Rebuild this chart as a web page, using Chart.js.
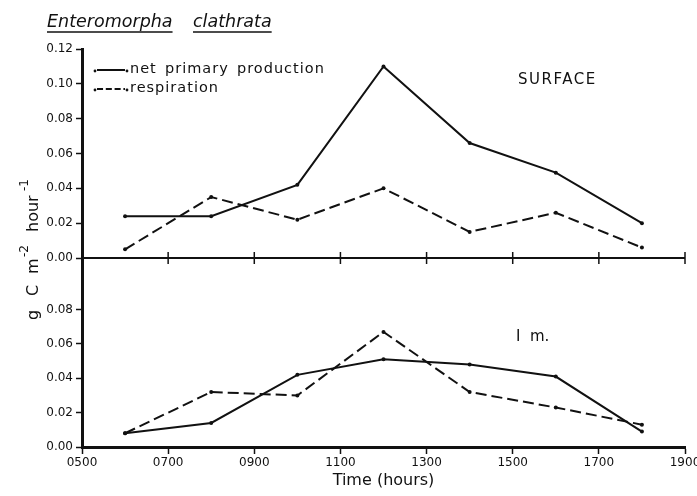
<!DOCTYPE html>
<html>
<head>
<meta charset="utf-8">
<script src="https://cdn.jsdelivr.net/npm/chart.js@4/dist/chart.umd.min.js"></script>
<style>
  html, body { margin: 0; padding: 0; background: #fff; }
  #wrap { width: 697px; height: 496px; position: relative; }
</style>
</head>
<body>
<div id="wrap"><canvas id="c" width="697" height="496"></canvas></div>
<script>
// Sampling times (hours of the day)
const hours = [6, 8, 10, 12, 14, 16, 18];

// Surface samples, g C m-2 hour-1
const surfaceNet  = [0.024, 0.024, 0.042, 0.110, 0.066, 0.049, 0.020];
const surfaceResp = [0.005, 0.035, 0.022, 0.040, 0.015, 0.026, 0.006];

// 1 m depth samples, g C m-2 hour-1
const depthNet  = [0.008, 0.014, 0.042, 0.051, 0.048, 0.041, 0.009];
const depthResp = [0.008, 0.032, 0.030, 0.067, 0.032, 0.023, 0.013];

// Axis ticks
const xTicks = [5, 7, 9, 11, 13, 15, 17, 19];
const xTickLabels = ['0500', '0700', '0900', '1100', '1300', '1500', '1700', '1900'];
const topTicks = [0, 0.02, 0.04, 0.06, 0.08, 0.10, 0.12];
const topTickLabels = ['0.00', '0.02', '0.04', '0.06', '0.08', '0.10', '0.12'];
const bottomTicks = [0, 0.02, 0.04, 0.06, 0.08];
const bottomTickLabels = ['0.00', '0.02', '0.04', '0.06', '0.08'];

const seriesNames = ['net primary production', 'respiration'];

const FONT = '"DejaVu Sans", sans-serif';
const INK = '#111';
const DASH = [11, 5];

function pts(ys) { return hours.map((h, i) => ({ x: h, y: ys[i] })); }

function lineSet(label, ys, axis, dashed) {
  return {
    label: label,
    data: pts(ys),
    yAxisID: axis,
    borderColor: INK,
    backgroundColor: INK,
    borderWidth: 2,
    borderDash: dashed ? DASH : [],
    pointRadius: 2,
    pointBorderWidth: 0,
    pointBackgroundColor: INK,
    tension: 0,
    fill: false
  };
}

function yAxis(min, max, ticks, labels, weight) {
  return {
    type: 'linear',
    position: 'left',
    stack: 'panels',
    stackWeight: weight,
    min: min,
    max: max,
    afterBuildTicks: s => { s.ticks = ticks.map(v => ({ value: v })); },
    afterFit: s => { s.width = 82; },
    ticks: {
      color: INK,
      font: { family: FONT, size: 12 },
      padding: 3,
      callback: (v) => { const i = ticks.findIndex(t => Math.abs(t - v) < 1e-9); return i >= 0 ? labels[i] : ''; }
    },
    grid: { drawOnChartArea: false, drawTicks: true, tickLength: 6, tickWidth: 1.5, tickColor: INK },
    border: { display: true, color: INK, width: 3 }
  };
}

// Text, legend and the zero line between panels
const decor = {
  id: 'decor',
  afterDatasetsDraw(chart) {
    const ctx = chart.ctx;
    const xs = chart.scales.x;
    const yt = chart.scales.yTop;
    ctx.save();
    ctx.strokeStyle = INK;
    ctx.fillStyle = INK;

    // zero line of the upper panel with crossing ticks
    const y0 = yt.getPixelForValue(0);
    ctx.lineWidth = 2;
    ctx.beginPath();
    ctx.moveTo(xs.left, y0);
    ctx.lineTo(xs.right, y0);
    ctx.stroke();
    ctx.lineWidth = 1.5;
    xTicks.forEach(v => {
      const px = xs.getPixelForValue(v);
      ctx.beginPath();
      ctx.moveTo(px, y0 - 6);
      ctx.lineTo(px, y0 + 6);
      ctx.stroke();
    });

    // title, each word underlined
    ctx.font = 'oblique 17.5px ' + FONT;
    ctx.textBaseline = 'alphabetic';
    ctx.textAlign = 'left';
    [['Enteromorpha', 47], ['clathrata', 193]].forEach(([w, x]) => {
      ctx.fillText(w, x, 27);
      const wd = ctx.measureText(w).width;
      ctx.lineWidth = 1.5;
      ctx.beginPath();
      ctx.moveTo(x, 32);
      ctx.lineTo(x + wd, 32);
      ctx.stroke();
    });

    // legend
    ctx.lineWidth = 2;
    const legendRows = [[70, []], [89, DASH.map(d => d * 0.55)]];
    legendRows.forEach(([y, dash], i) => {
      ctx.setLineDash(dash);
      ctx.beginPath();
      ctx.moveTo(97, y);
      ctx.lineTo(125, y);
      ctx.stroke();
      ctx.setLineDash([]);
      [95, 127].forEach(x => { ctx.beginPath(); ctx.arc(x, y + 1, 1.4, 0, Math.PI * 2); ctx.fill(); });
      ctx.font = '14.5px ' + FONT;
      ctx.textBaseline = 'middle';
      ctx.letterSpacing = '1px';
      const words = seriesNames[i].split(' ');
      const starts = i === 0 ? [130, 165, 237] : [130];
      words.forEach((w, k) => ctx.fillText(w, starts[k], y - 1));
      ctx.letterSpacing = '0px';
    });

    // panel labels
    ctx.font = '15px ' + FONT;
    ctx.letterSpacing = '1.5px';
    ctx.textBaseline = 'middle';
    ctx.fillText('SURFACE', 518, 80);
    ctx.letterSpacing = '0px';
    ctx.fillText('I', 516, 337);
    ctx.fillText('m.', 530, 337);

    // vertical axis title with superscripts
    ctx.translate(38, 320);
    ctx.rotate(-Math.PI / 2);
    ctx.textBaseline = 'alphabetic';
    ctx.font = '16px ' + FONT;
    ctx.fillText('g', 0, 0);
    ctx.fillText('C', 24, 0);
    ctx.fillText('m', 46, 0);
    ctx.fillText('hour', 88, 0);
    ctx.font = '12px ' + FONT;
    ctx.fillText('-2', 63, -10);
    ctx.fillText('-1', 129, -10);
    ctx.restore();
  }
};

new Chart(document.getElementById('c'), {
  type: 'line',
  data: {
    datasets: [
      lineSet(seriesNames[0], surfaceNet, 'yTop', false),
      lineSet(seriesNames[1], surfaceResp, 'yTop', true),
      lineSet(seriesNames[0], depthNet, 'yBot', false),
      lineSet(seriesNames[1], depthResp, 'yBot', true)
    ]
  },
  options: {
    responsive: false,
    animation: false,
    events: [],
    layout: { padding: { left: 0, right: 12, top: 49, bottom: 0 } },
    plugins: { legend: { display: false }, tooltip: { enabled: false }, title: { display: false } },
    scales: {
      x: {
        type: 'linear',
        position: 'bottom',
        min: 5,
        max: 19,
        afterBuildTicks: s => { s.ticks = xTicks.map(v => ({ value: v })); },
        afterFit: s => { s.height = 49; s.paddingLeft = 0; s.paddingRight = 0; },
        ticks: {
          color: INK,
          font: { family: FONT, size: 12 },
          padding: 2,
          maxRotation: 0,
          callback: (v) => { const i = xTicks.indexOf(v); return i >= 0 ? xTickLabels[i] : ''; }
        },
        grid: { drawOnChartArea: false, drawTicks: true, tickLength: 7, tickWidth: 1.5, tickColor: INK },
        border: { display: true, color: INK, width: 3 },
        title: { display: true, text: 'Time (hours)', color: INK, font: { family: FONT, size: 16 }, padding: { top: 0, bottom: 6 } }
      },
      yBot: yAxis(0, 0.11, bottomTicks, bottomTickLabels, 189),
      yTop: yAxis(0, 0.12, topTicks, topTickLabels, 209)
    }
  },
  plugins: [decor]
});
</script>
</body>
</html>
